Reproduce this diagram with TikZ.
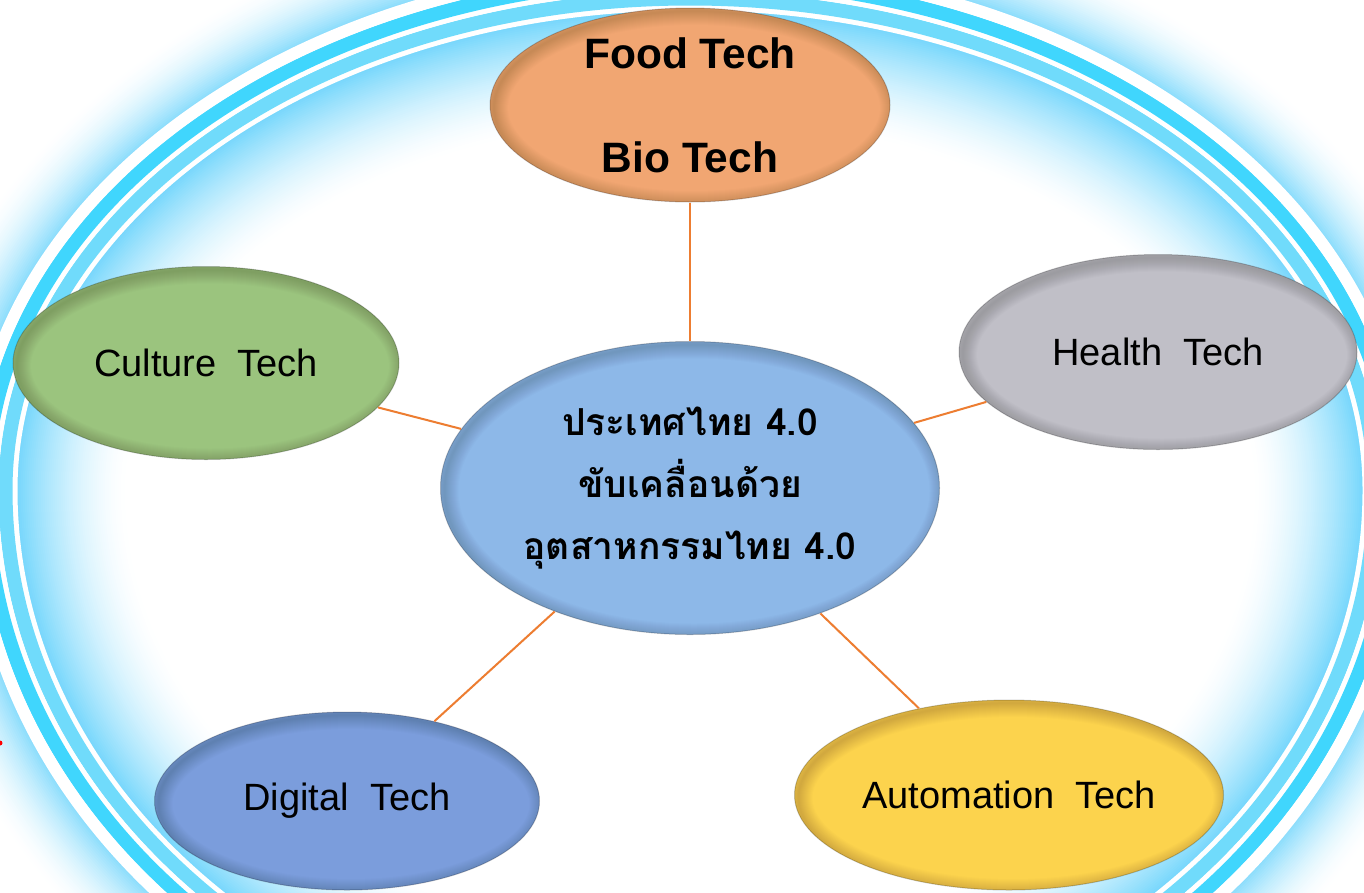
\documentclass[tikz,border=0pt]{standalone}
\usepackage{fontspec}
\setmainfont{Liberation Sans}
\newfontfamily\thaifont[Script=Thai]{Loma}
\usetikzlibrary{shapes.geometric,calc}
\definecolor{ringblue}{RGB}{64,214,253}
\definecolor{bandblue}{RGB}{112,219,251}
\definecolor{glowblue}{RGB}{96,208,251}
\definecolor{foodc}{RGB}{241,166,114}
\definecolor{culturec}{RGB}{155,196,126}
\definecolor{healthc}{RGB}{192,191,199}
\definecolor{centerc}{RGB}{141,184,232}
\definecolor{digitalc}{RGB}{123,157,220}
\definecolor{autoc}{RGB}{252,211,77}
\definecolor{connc}{RGB}{237,125,49}
% ring band: offset d from the base curve, line width, colour
\newcommand\glowring[3]{%
  \pgfmathsetmacro\ra{675+#1}%
  \pgfmathsetmacro\rb{482+#1}%
  \pgfmathsetmacro\rc{560+#1}%
  \pgfmathsetmacro\rx{690-\ra}%
  \draw[line width=#2pt, #3] (\rx,490)
     arc[start angle=180, end angle=0, x radius=\ra pt, y radius=\rb pt]
     arc[start angle=0, end angle=-180, x radius=\ra pt, y radius=\rc pt] -- cycle;}
\tikzset{
  bub/.style={ellipse, inner sep=0pt, draw=black, draw opacity=0.2, line width=1pt,
    font=\fontsize{38}{46}\selectfont,
    path picture={
      \foreach \w in {2,4,...,28}{
        \draw[line width=\w pt, black, opacity=0.012]
          let \p1=(path picture bounding box.north east),
              \p2=(path picture bounding box.center) in
          ($(\p2)+(4,3)$) ellipse [x radius={\x1-\x2}, y radius={\y1-\y2}];
      }
    }},
  conn/.style={draw=connc, line width=2pt}
}
\begin{document}
\begin{tikzpicture}[x=1pt,y=-1pt]
\useasboundingbox (0,0) rectangle (1364,892);
\fill[white] (0,0) rectangle (1364,892);
\begin{scope}
\clip (0,0) rectangle (1364,892);
% inner glow
\foreach \k in {0,...,54}{
  \pgfmathsetmacro\gp{85*(1-\k/55)^1.6}
  \pgfmathsetmacro\dd{-3-2*\k}
  \glowring{\dd}{2.6}{glowblue!\gp!white}
}
% outer glow
\foreach \k in {0,...,34}{
  \pgfmathsetmacro\gp{72*(1-\k/35)^1.8}
  \pgfmathsetmacro\dd{48+2*\k}
  \glowring{\dd}{2.6}{glowblue!\gp!white}
}
% bands
\glowring{0}{5}{white}
\glowring{9.5}{14}{bandblue}
\glowring{19}{5}{white}
\glowring{28.5}{14}{ringblue}
\glowring{41.5}{12}{white}
\fill[red] (0,743) circle [radius=2.5pt];
\end{scope}

% nodes
\node[bub, fill=foodc, minimum width=400pt, minimum height=194pt, inner sep=-8pt,
      align=center, font=\bfseries\fontsize{42.5}{104}\selectfont] (food) at (690,105) {Food Tech\\Bio Tech};
\node[bub, fill=culturec, minimum width=386pt, minimum height=193pt] (culture) at (206,363) {Culture~~Tech};
\node[bub, fill=healthc, minimum width=398pt, minimum height=195pt] (health) at (1158,352) {Health~~Tech};
\node[bub, fill=centerc, minimum width=499pt, minimum height=293pt, align=center,
      font=\thaifont\bfseries\fontsize{37.2}{62}\selectfont] (center) at (690,488)
      {ประเทศไทย 4.0\\ขับเคลื่อนด้วย\\อุตสาหกรรมไทย 4.0};
\node[bub, fill=digitalc, minimum width=385pt, minimum height=178pt] (digital) at (347,801) {Digital~~Tech};
\node[bub, fill=autoc, minimum width=429pt, minimum height=190pt] (auto) at (1009,795) {Automation~~Tech};

% connectors
\draw[conn] (food) -- (center);
\draw[conn] (culture) -- (center);
\draw[conn] (health) -- (center);
\draw[conn] (digital) -- (center);
\draw[conn] (auto) -- (center);
\end{tikzpicture}
\end{document}
